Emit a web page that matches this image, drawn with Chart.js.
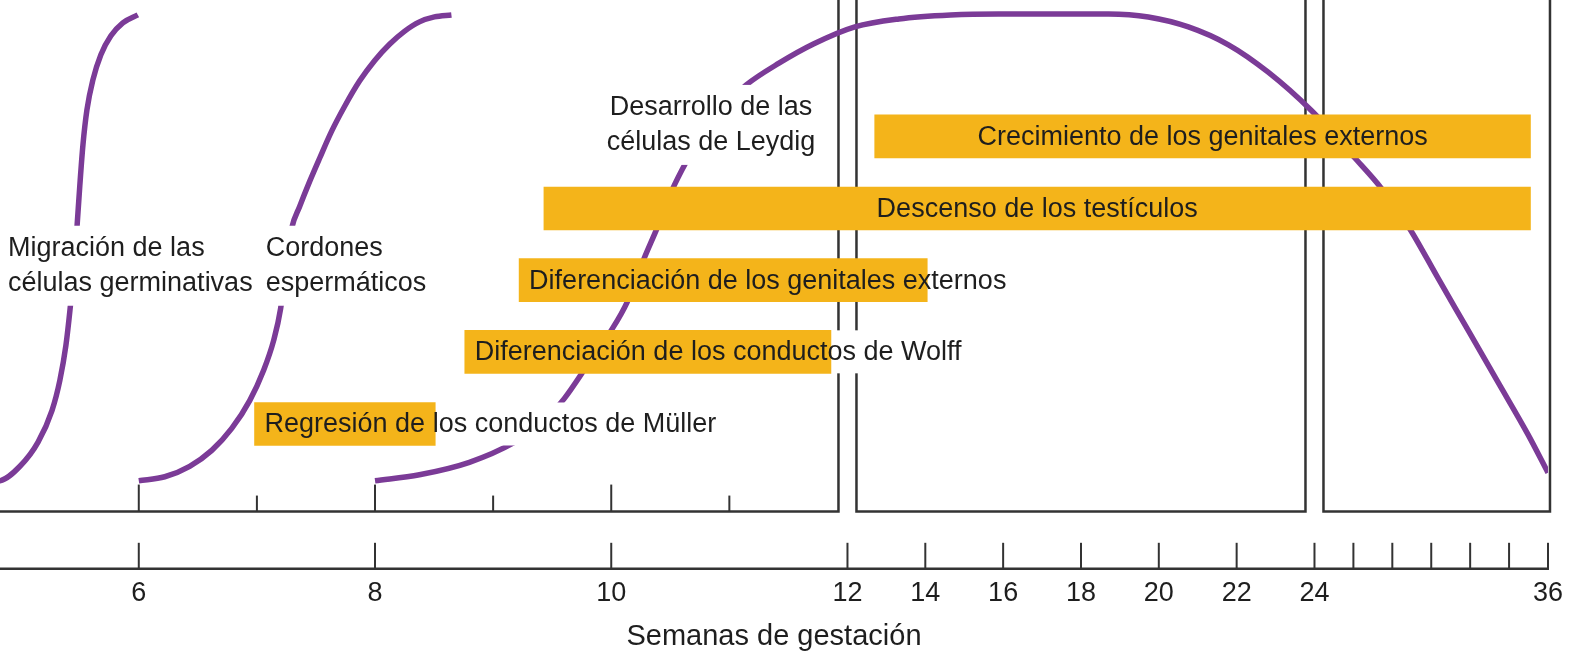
<!DOCTYPE html>
<html>
<head>
<meta charset="utf-8">
<script src="https://cdn.jsdelivr.net/npm/chart.js@4.4.0/dist/chart.umd.min.js"></script>
<style>
  html, body { margin: 0; padding: 0; background: #fff; }
  canvas { display: block; }
</style>
</head>
<body>
<canvas id="myChart" width="1572" height="654"></canvas>
<script>
// Eje: semanas de gestación
const weekMin = 4.825;
const weekMax = 36;
const axisTicks = [6, 8, 10, 12, 14, 16, 18, 20, 22, 24, 26, 28, 30, 32, 34, 36];
const axisLabels = ['6', '8', '10', '12', '14', '16', '18', '20', '22', '24', '', '', '', '', '', '36'];
const panelTicks = [6, 7, 8, 9, 10, 11];
const periods = [[weekMin, 12], [12, 24], [24, 36]];

// Curvas (nivel relativo, 0 = base, 100 = máximo)
const migracionWeeks = [4.504, 4.825, 4.994, 5.146, 5.265, 5.332, 5.383, 5.417, 5.451, 5.476, 5.501, 5.527, 5.561, 5.611, 5.679, 5.764, 5.865, 5.992];
const migracionLevels = [5.8, 6.2, 9.1, 13.9, 20.3, 26.4, 33.4, 40.4, 48.9, 56.9, 65.6, 73.6, 80.7, 86.7, 91.8, 95.6, 98.2, 99.8];

const cordonesWeeks = [6.0, 6.22, 6.431, 6.618, 6.787, 6.939, 7.057, 7.142, 7.201, 7.243, 7.294, 7.362, 7.446, 7.531, 7.632, 7.742, 7.869, 7.996, 8.123, 8.249, 8.376, 8.503, 8.647];
const cordonesLevels = [6.2, 7.0, 9.1, 12.3, 16.7, 22.3, 28.4, 34.4, 40.8, 48.9, 56.9, 61.3, 66.3, 71.0, 76.4, 81.4, 86.5, 90.6, 93.9, 96.5, 98.4, 99.4, 99.8];

const leydigWeeks = [8.0, 8.376, 8.799, 9.18, 9.391, 9.602, 9.814, 10.0, 10.135, 10.279, 10.389, 10.515, 10.642, 10.786, 10.955, 11.141, 11.42, 11.716, 12.19, 13.32, 14.65, 15.885, 17.425, 18.71, 19.73, 20.76, 21.79, 22.81, 23.92, 26.04, 27.43, 28.87, 30.35, 31.9, 33.43, 34.97, 36.0];
const leydigLevels = [6.2, 7.4, 9.9, 13.9, 17.3, 22.7, 30.0, 36.4, 42.1, 50.9, 57.0, 64.6, 70.6, 76.5, 81.5, 85.7, 90.1, 94.0, 97.4, 99.0, 99.8, 100, 100, 100, 99.4, 97.4, 93.8, 88.3, 80.6, 71.2, 65.0, 57.0, 46.9, 36.4, 26.0, 15.5, 7.8];

// Barras (procesos)
const barLabels = [
  'Crecimiento de los genitales externos',
  'Descenso de los testículos',
  'Diferenciación de los genitales externos',
  'Diferenciación de los conductos de Wolff',
  'Regresión de los conductos de Müller'
];
const barStart = [12.7, 9.43, 9.22, 8.76, 6.98];
const barEnd = [35.1, 35.1, 14.05, 11.86, 8.51];
const barLevels = [75.4, 60.9, 46.5, 32.1, 17.6];
const barAlign = ['center', 'center', 'left', 'left', 'left'];

// Rótulos de las curvas
const notes = [
  ['Migración de las', 'células germinativas'],
  ['Cordones', 'espermáticos'],
  ['Desarrollo de las', 'células de Leydig']
];
const noteWeeks = [4.893, 7.074, 10.845];
const noteLevels = [49.4, 49.4, 77.7];
const noteAlign = ['left', 'left', 'center'];

// estilos
const purple = '#7B3B97';
const orange = '#F4B41A';
const axisColor = '#333333';
const textColor = '#1e1e1e';
const fontFamily = '"Liberation Sans", Arial, Helvetica, sans-serif';
const fontSize = 27;
const lineGap = 35;
const panelGap = 9;

// escala por tramos: cada semana ocupa distinto ancho antes de 12, entre 12 y 24 y después de 24
function toUnits(w) {
  if (w <= 12) return (w - 12) * 6.07;
  if (w <= 24) return (w - 12) * 2;
  return 24 + (w - 24);
}
function fromUnits(u) {
  if (u <= 0) return 12 + u / 6.07;
  if (u <= 24) return 12 + u / 2;
  return 24 + (u - 24);
}

class SegmentScale extends Chart.LinearScale {
  getPixelForValue(value) {
    const a = toUnits(this.min), b = toUnits(this.max);
    return this.getPixelForDecimal((toUnits(value) - a) / (b - a));
  }
  getValueForPixel(pixel) {
    const a = toUnits(this.min), b = toUnits(this.max);
    return fromUnits(a + this.getDecimalForPixel(pixel) * (b - a));
  }
}
SegmentScale.id = 'segment';
SegmentScale.defaults = Chart.LinearScale.defaults;
Chart.register(SegmentScale);

function curve(weeks, levels) {
  return {
    type: 'line',
    data: weeks.map((w, i) => ({ x: w, y: levels[i] })),
    borderColor: purple,
    borderWidth: 5.5,
    pointRadius: 0,
    cubicInterpolationMode: 'monotone',
    fill: false,
    order: 1
  };
}

const data = {
  datasets: [
    curve(migracionWeeks, migracionLevels),
    curve(cordonesWeeks, cordonesLevels),
    curve(leydigWeeks, leydigLevels),
    {
      type: 'bar',
      indexAxis: 'y',
      data: barLevels.map((lv, i) => ({ y: lv, x: [barStart[i], barEnd[i]] })),
      backgroundColor: orange,
      borderWidth: 0,
      barThickness: 43,
      order: 0
    }
  ]
};

function textBoxes(chart) {
  const { ctx, scales: { x, y } } = chart;
  ctx.font = fontSize + 'px ' + fontFamily;
  const boxes = [];
  barLabels.forEach((label, i) => {
    const x0 = x.getPixelForValue(barStart[i]);
    const x1 = x.getPixelForValue(barEnd[i]);
    const cy = y.getPixelForValue(barLevels[i]);
    const w = ctx.measureText(label).width;
    const tx = barAlign[i] === 'center' ? (x0 + x1) / 2 - w / 2 : x0 + 10;
    boxes.push({ kind: 'bar', label, tx, cy, w, x1 });
  });
  notes.forEach((lines, i) => {
    const ax = x.getPixelForValue(noteWeeks[i]);
    const cy = y.getPixelForValue(noteLevels[i]);
    const w = Math.max(...lines.map(l => ctx.measureText(l).width));
    boxes.push({ kind: 'note', lines, ax, cy, w, align: noteAlign[i] });
  });
  return boxes;
}

const framesPlugin = {
  id: 'frames',
  beforeDatasetsDraw(chart) {
    const { ctx, chartArea, scales: { x, y } } = chart;
    const base = y.getPixelForValue(0);
    const top = chartArea.top;
    ctx.save();
    ctx.strokeStyle = axisColor;
    ctx.lineWidth = 2.5;
    ctx.lineJoin = 'miter';
    periods.forEach(([a, b], i) => {
      const last = i === periods.length - 1;
      const left = i === 0 ? x.left : x.getPixelForValue(a) + panelGap;
      const right = last ? x.getPixelForValue(b) + 2 : x.getPixelForValue(b) - panelGap;
      ctx.beginPath();
      if (i === 0) {
        ctx.moveTo(left, base);
      } else {
        ctx.moveTo(left, top);
        ctx.lineTo(left, base);
      }
      ctx.lineTo(right, base);
      ctx.lineTo(right, top);
      ctx.stroke();
    });
    // marcas del primer tramo
    ctx.lineWidth = 2;
    panelTicks.forEach(w => {
      const px = x.getPixelForValue(w);
      const len = w % 2 === 0 ? 27 : 16;
      ctx.beginPath();
      ctx.moveTo(px, base);
      ctx.lineTo(px, base - len);
      ctx.stroke();
    });
    // eje inferior
    const ay = x.top;
    ctx.lineWidth = 2.5;
    ctx.beginPath();
    ctx.moveTo(x.left, ay);
    ctx.lineTo(x.getPixelForValue(weekMax) + 1, ay);
    ctx.stroke();
    ctx.lineWidth = 2;
    x.ticks.forEach(t => {
      const px = x.getPixelForValue(t.value);
      ctx.beginPath();
      ctx.moveTo(px, ay);
      ctx.lineTo(px, ay - 26);
      ctx.stroke();
    });
    ctx.restore();
  },
  beforeDatasetDraw(chart, args) {
    if (args.meta.type !== 'bar') return;
    const { ctx } = chart;
    ctx.save();
    ctx.fillStyle = '#ffffff';
    textBoxes(chart).forEach(b => {
      if (b.kind === 'bar') {
        const end = b.tx + b.w + 3;
        if (end > b.x1) ctx.fillRect(b.x1, b.cy - 21.5, end - b.x1, 43);
      } else {
        const h = b.lines.length * lineGap + 10;
        const left = b.align === 'center' ? b.ax - b.w / 2 : b.ax;
        ctx.fillRect(left - 6, b.cy - h / 2, b.w + 12, h);
      }
    });
    ctx.restore();
  },
  afterDatasetsDraw(chart) {
    const { ctx } = chart;
    ctx.save();
    ctx.fillStyle = textColor;
    ctx.textBaseline = 'middle';
    ctx.font = fontSize + 'px ' + fontFamily;
    textBoxes(chart).forEach(b => {
      if (b.kind === 'bar') {
        ctx.textAlign = 'left';
        ctx.fillText(b.label, b.tx, b.cy + 1);
      } else {
        ctx.textAlign = b.align;
        const y0 = b.cy - (b.lines.length - 1) * lineGap / 2;
        b.lines.forEach((l, k) => ctx.fillText(l, b.ax, y0 + k * lineGap));
      }
    });
    ctx.restore();
  }
};

const config = {
  type: 'line',
  data: data,
  options: {
    responsive: false,
    animation: false,
    layout: {
      padding: { left: 0, right: 22, top: 0, bottom: 0 }
    },
    plugins: {
      legend: { display: false },
      tooltip: { enabled: false }
    },
    scales: {
      x: {
        type: 'segment',
        min: weekMin,
        max: weekMax,
        afterBuildTicks: scale => {
          scale.ticks = axisTicks.map(v => ({ value: v }));
        },
        grid: { display: false, drawTicks: false },
        border: { display: false },
        ticks: {
          autoSkip: false,
          maxRotation: 0,
          padding: 9,
          color: textColor,
          font: { family: fontFamily, size: fontSize },
          callback: (value, index) => axisLabels[index]
        },
        title: {
          display: true,
          text: 'Semanas de gestación',
          color: textColor,
          font: { family: fontFamily, size: 29 },
          padding: { top: 0, bottom: 0 }
        }
      },
      y: {
        type: 'linear',
        display: false,
        offset: false,
        min: -11.5,
        max: 102.8
      }
    }
  },
  plugins: [framesPlugin]
};

const myChart = new Chart(document.getElementById('myChart').getContext('2d'), config);
</script>
</body>
</html>
